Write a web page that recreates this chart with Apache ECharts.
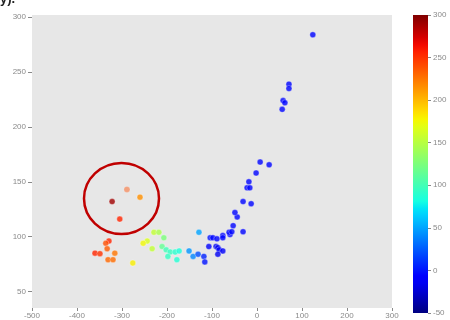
<!DOCTYPE html>
<html><head><meta charset="utf-8">
<script src="https://cdn.jsdelivr.net/npm/echarts@6/dist/echarts.min.js"></script>
<style>html,body{margin:0;padding:0;background:#fff}#c{width:450px;height:320px}</style>
</head><body><div id="c"></div>
<script>
// x, y, colour value
const xs = [-322,-260,-289,-305, -329,-336,-333,-360,-349,-316,-331,-320,
  -276,-244,-253,-229,-218,-233,-207,-211,-202,-193,-182,-173,-198,-178,
  -129,-104,-98,-89,-151,-142,-131,-118,-116,-107,-91,-87,-84,-76,-87,-76,-76,
  -60,-62,-56,-31,-53,-44,-49,-31,-13,-22,-16,-18,-2,7,27,56,58,62,71,71,124];
const ys = [132,136,143,116, 96,94,89,85,84.5,85,79,79,
  76,96,94,104,104,89,99,91,88,86,86,87,82,79,
  104,99,99,98,87,82,84,82,77,91,91,90,88,87,84,101,99,
  102,104,104.5,104.5,110,118,122,132,130,144.5,144.5,150,158,168,165.5,216,224,222,239,235,284];
const vals = [290,215,240,255, 255,240,235,255,250,225,230,228,
  180,165,175,155,145,155,125,115,100,95,90,85,95,88,
  50,0,-5,-5,45,40,20,5,0,-10,-15,-15,-10,-10,-15,-5,-5,
  -5,-5,-5,-5,-5,-5,-5,-5,-5,-5,-5,-5,-5,-5,-5,-5,-5,-5,-5,-5,-5];
const faded = [2];
const xTicks = [-500,300,100];
const yTicks = [50,100,150,200,250,300];
const cbTicks = [-50,300,50];

function jet(t){
  const r = t<0.35?0:t<0.66?(t-0.35)/0.31:t<0.89?1:1-0.5*(t-0.89)/0.11;
  const g = t<0.125?0:t<0.375?(t-0.125)/0.25:t<0.64?1:t<0.91?1-(t-0.64)/0.27:0;
  const b = t<0.11?0.5+0.5*t/0.11:t<0.34?1:t<0.65?1-(t-0.34)/0.31:0;
  const h=v=>Math.round(Math.max(0,Math.min(1,v))*255).toString(16).padStart(2,'0');
  return '#'+h(r)+h(g)+h(b);
}
const N=40, jetColors=[];
for(let i=0;i<=N;i++) jetColors.push(jet(i/N));
const gradStops=[];
for(let i=0;i<=N;i++) gradStops.push({offset:i/N,color:jet(1-i/N)});

const data = xs.map((x,i)=>{
  const d={value:[x,ys[i],vals[i]]};
  if(faded.includes(i)) d.itemStyle={opacity:0.45};
  return d;
});
const lab={color:'#8a8a8a',fontSize:8,fontFamily:'Liberation Sans'};
const chart=echarts.init(document.getElementById('c'),null,{renderer:'canvas'});
chart.setOption({
  animation:false,
  grid:[{left:32,right:58,top:15,bottom:12,show:true,backgroundColor:'#e7e7e7',borderWidth:0,z:0},
        {left:413,width:15,top:15,bottom:7,show:false}],
  xAxis:[{type:'value',gridIndex:0,position:'bottom',min:xTicks[0],max:xTicks[1],interval:xTicks[2],
    axisLine:{show:false,onZero:false},splitLine:{show:false},
    axisTick:{show:true,length:3,lineStyle:{color:'#888'}},
    axisLabel:Object.assign({margin:4},lab)},
    {type:'value',gridIndex:1,show:false,min:0,max:1}],
  yAxis:[{type:'value',gridIndex:0,position:'left',min:35,max:302,z:5,
    axisLine:{show:false,onZero:false},splitLine:{show:false},
    axisTick:{show:true,length:4,customValues:yTicks,lineStyle:{color:'#888'}},
    axisLabel:Object.assign({margin:6,customValues:yTicks},lab)},
    {type:'value',gridIndex:1,position:'right',min:cbTicks[0],max:cbTicks[1],interval:cbTicks[2],
    axisLine:{show:false,onZero:false},splitLine:{show:false},
    axisTick:{show:true,length:3,inside:false,lineStyle:{color:'#888'}},
    axisLabel:Object.assign({margin:5},lab)}],
  visualMap:{show:false,type:'continuous',min:-50,max:300,dimension:2,seriesIndex:0,
    inRange:{color:jetColors}},
  graphic:[
    {type:'rect',shape:{x:413,y:15,width:15,height:298},style:{fill:{type:'linear',x:0,y:0,x2:0,y2:1,colorStops:gradStops}},z:10},
    {type:'ellipse',shape:{cx:121.5,cy:198.5,rx:37.5,ry:35.5},style:{fill:'none',stroke:'#c00000',lineWidth:2.5},z:20},
    {type:'text',x:0,y:-7,style:{text:'y).',font:'bold 13px Liberation Sans',fill:'#222'},z:20}
  ],
  series:[{type:'scatter',xAxisIndex:0,yAxisIndex:0,symbolSize:6,data:data,
    itemStyle:{borderColor:'rgba(255,255,255,0.5)',borderWidth:0.8}}]
});
</script></body></html>
